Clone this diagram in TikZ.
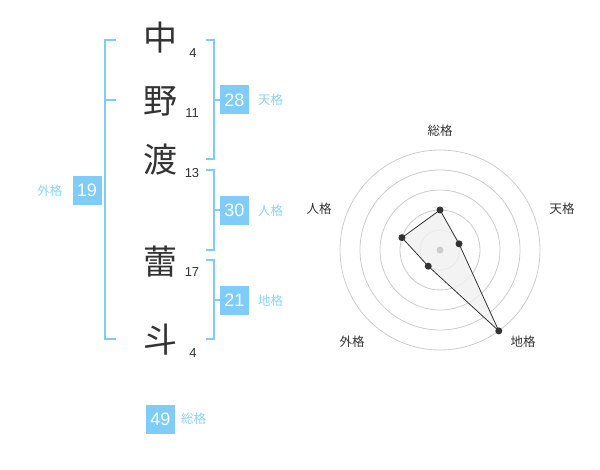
\documentclass[tikz,border=0pt]{standalone}
\usepackage{fontspec}
\usetikzlibrary{positioning,calc}
\setmainfont{Liberation Sans}
\newfontfamily\jpfont{Noto Sans CJK JP}
\definecolor{kakublue}{HTML}{80CCF8}
\definecolor{kakutext}{HTML}{8ED3F6}
\definecolor{inkgray}{HTML}{333333}
\definecolor{ringgray}{HTML}{CCCCCC}
\definecolor{areagray}{HTML}{F0F0F0}

\begin{document}
\begin{tikzpicture}[x=1pt,y=-1pt,line width=1pt,
  kanji/.style={font=\jpfont\fontsize{34}{34}\selectfont,text=inkgray,inner sep=0pt},
  strokes/.style={font=\fontsize{13}{13}\selectfont,text=inkgray,inner sep=0pt},
  kaku/.style={fill=kakublue,text=white,minimum size=29pt,inner sep=0pt,font=\fontsize{18}{18}\selectfont},
  kakuname/.style={font=\jpfont\fontsize{12.5}{12.5}\selectfont,text=kakutext,inner sep=0pt},
  bracket/.style={draw=kakublue,line width=2pt},
  axisname/.style={font=\jpfont\fontsize{12.5}{12.5}\selectfont,text=inkgray,inner sep=0pt}]
  \useasboundingbox (0,0) rectangle (600,470);

  % 名前の文字と画数
  \node[kanji] (k1) at (160,38) {中};
  \node[kanji] (k2) at (160,101) {野};
  \node[kanji] (k3) at (160,160) {渡};
  \node[kanji] (k4) at (160,262) {蕾};
  \node[kanji] (k5) at (160,340) {斗};
  \node[strokes] (s1) at (193,53) {4};
  \node[strokes] (s2) at (192,113) {11};
  \node[strokes] (s3) at (192,173) {13};
  \node[strokes] (s4) at (192,272) {17};
  \node[strokes] (s5) at (193,353) {4};

  % 外格
  \draw[bracket] (116,40) -- (105,40) -- (105,339) -- (116,339);
  \draw[bracket] (105,100) -- (116,100);
  \node[kaku] (gai) at (87,190.5) {19};
  \node[kakuname,left=9pt of gai] (gainame) {外格};

  % 天格・人格・地格
  \draw[bracket] (206,40) -- (214,40) -- (214,159) -- (206,159);
  \node[kaku] (ten) at (234.5,100) {28};
  \draw[bracket] (214,100) -- (ten.west);
  \node[kakuname,right=8pt of ten] (tenname) {天格};

  \draw[bracket] (206,170) -- (214,170) -- (214,250) -- (206,250);
  \node[kaku] (jin) at (234.5,210.5) {30};
  \draw[bracket] (214,210.5) -- (jin.west);
  \node[kakuname,right=8pt of jin] (jinname) {人格};

  \draw[bracket] (206,260) -- (214,260) -- (214,339) -- (206,339);
  \node[kaku] (chi) at (234.5,300.5) {21};
  \draw[bracket] (214,300.5) -- (chi.west);
  \node[kakuname,right=8pt of chi] (chiname) {地格};

  % 総格
  \node[kaku] (sou) at (160.5,419) {49};
  \node[kakuname,right=5pt of sou] (souname) {総格};

  % レーダーチャート
  \coordinate (c) at (440,250);
  \foreach \r in {20,40,60,80,100}
    \draw[ringgray,line width=0.8pt] (c) circle[radius=\r];
  \coordinate (pSou) at ($(c)+(-90:40)$);
  \coordinate (pTen) at ($(c)+(-18:20)$);
  \coordinate (pChi) at ($(c)+(54:100)$);
  \coordinate (pGai) at ($(c)+(126:20)$);
  \coordinate (pJin) at ($(c)+(198:40)$);
  \filldraw[fill=areagray,fill opacity=0.8,draw=inkgray,line width=0.8pt]
    (pSou) -- (pTen) -- (pChi) -- (pGai) -- (pJin) -- cycle;
  \fill[ringgray] (c) circle[radius=3.5];
  \foreach \p in {pSou,pTen,pChi,pGai,pJin}
    \fill[inkgray] (\p) circle[radius=3.5];
  \node[axisname] (aSou) at (440,131) {総格};
  \node[axisname] (aTen) at (562,209) {天格};
  \node[axisname] (aChi) at (523,342) {地格};
  \node[axisname] (aGai) at (352,342) {外格};
  \node[axisname] (aJin) at (319,209) {人格};
\end{tikzpicture}
\end{document}
